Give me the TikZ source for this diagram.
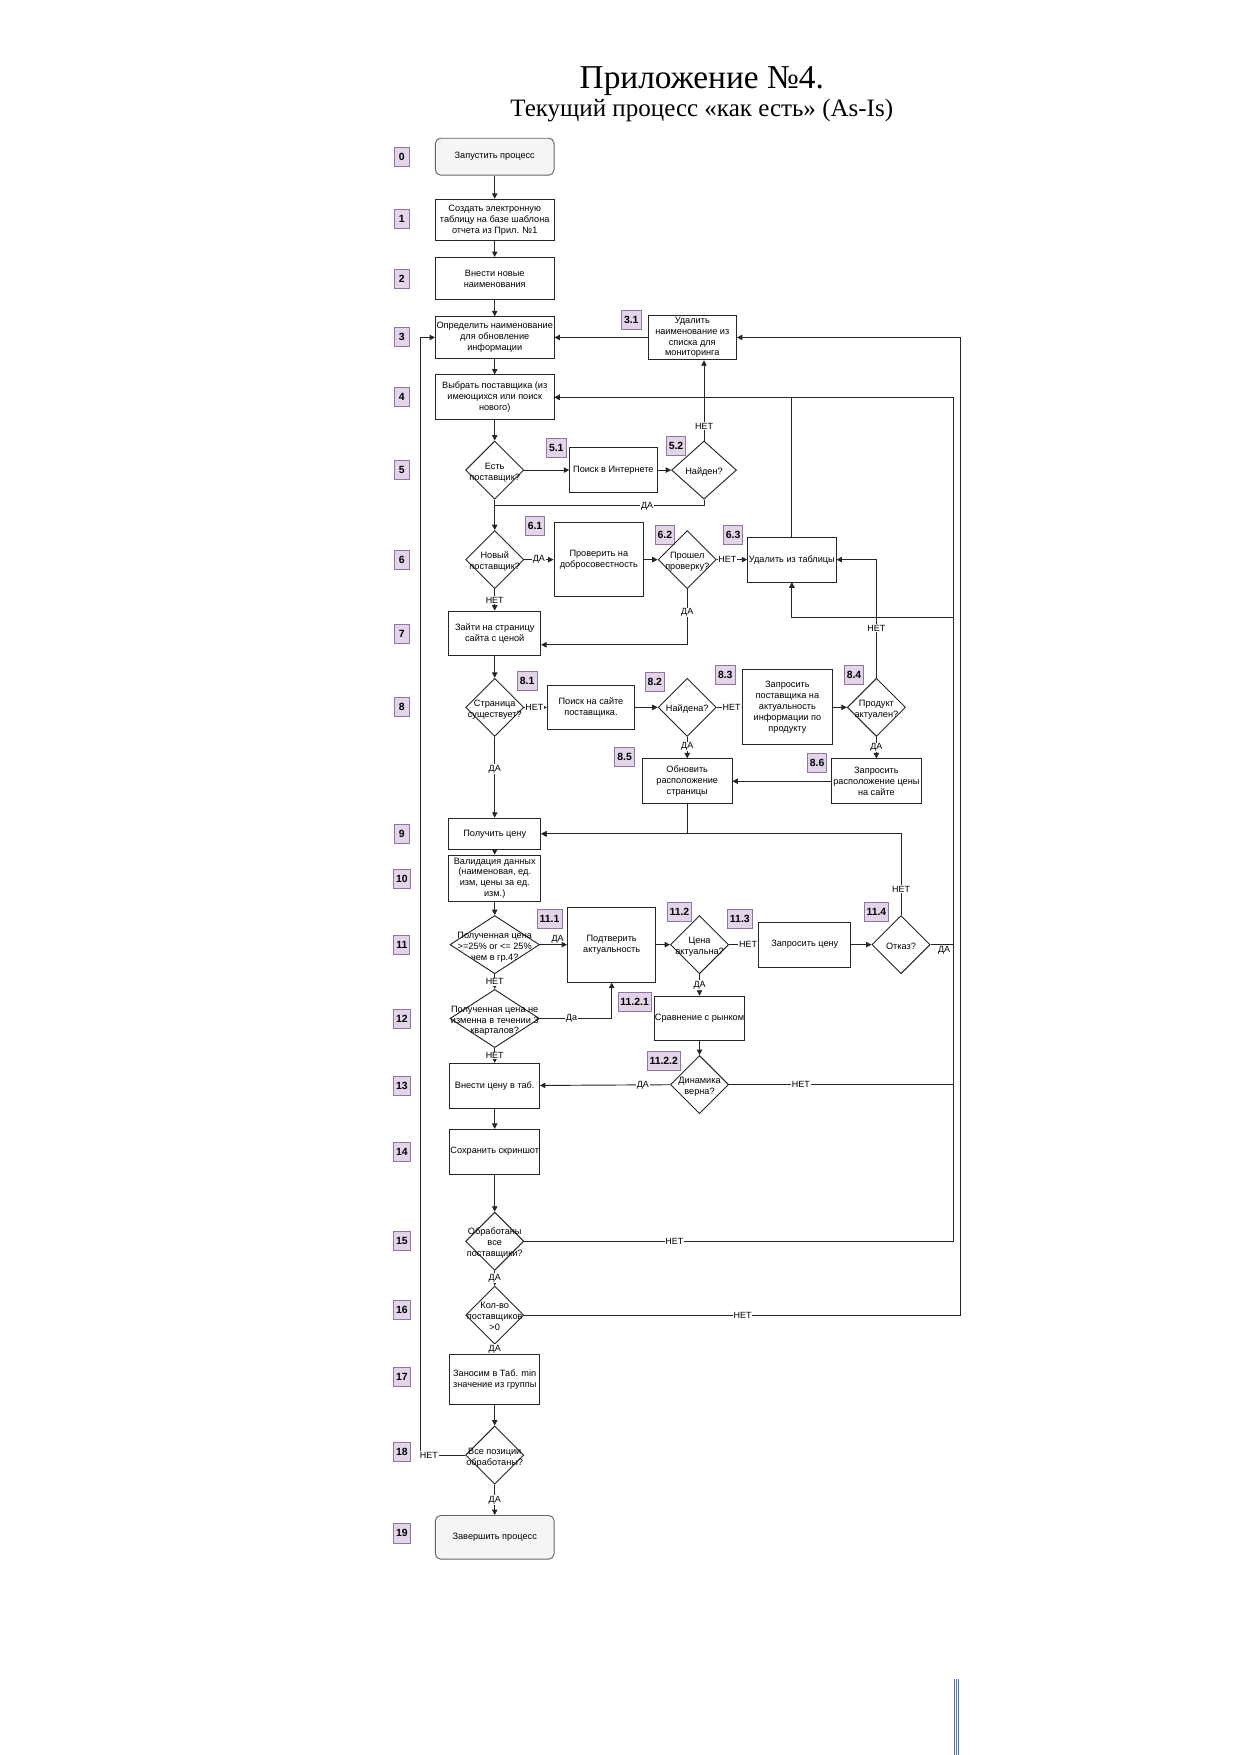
\documentclass[tikz,border=0pt]{standalone}
\usepackage{fontspec}
\setmainfont{Liberation Serif}
\newfontfamily\arialf{Liberation Sans}
\usetikzlibrary{shapes.geometric,arrows.meta}
\def\uu{0.5368pt}
\newcommand\dtext[1]{\makebox[0pt]{\smash{\raisebox{-2.4pt}{\begin{tabular}{@{}c@{}}#1\end{tabular}}}}}
\definecolor{numfill}{HTML}{E1D5E7}
\definecolor{numdraw}{HTML}{9673A6}
\definecolor{termfill}{HTML}{F5F5F5}
\definecolor{termdraw}{HTML}{666666}
\definecolor{markblue}{HTML}{4A72C0}
\begin{document}
\begin{tikzpicture}[x=0.5368pt,y=-0.5368pt,
  ln/.style={line width=0.45pt, draw=black!85},
  arr/.style={ln, -{Triangle[length=2.6pt,width=2.6pt]}},
  box/.style={draw=black!85, line width=0.45pt, rectangle, inner sep=0.3pt, align=center, font=\arialf\fontsize{4.4}{5.2}\selectfont},
  term/.style={box, rounded corners=2.5pt, fill=termfill, draw=termdraw},
  dia/.style={draw=black!85, line width=0.45pt, diamond, inner sep=0pt, font=\arialf\fontsize{4.4}{5.2}\selectfont},
  num/.style={draw=numdraw, fill=numfill, line width=0.4pt, font=\arialf\bfseries\fontsize{5}{6}\selectfont, minimum width=14*\uu, minimum height=17*\uu, inner sep=1.2pt},
  lbl/.style={fill=white, inner sep=0.4pt, font=\arialf\fontsize{4.3}{5}\selectfont},
  lblt/.style={inner sep=0.4pt, font=\arialf\fontsize{4.3}{5}\selectfont}
]
\fill[white] (0,0) rectangle (1109,1568);
\useasboundingbox (0,0) rectangle (1109,1568);

% title
\node[anchor=base, font=\fontsize{16}{19}\selectfont] (title) at (627,79) {Приложение №4.};
\node[anchor=base, font=\fontsize{12}{14}\selectfont] (subtitle) at (627,104) {Текущий процесс «как есть» (As-Is)};

% row numbers
\node[num] (L0) at (359,140) {0};
\node[num] (L1) at (359,196) {1};
\node[num] (L2) at (359,249) {2};
\node[num] (L3) at (359,301) {3};
\node[num] (L4) at (359,355) {4};
\node[num] (L5) at (359,420) {5};
\node[num] (L6) at (359,500) {6};
\node[num] (L7) at (359,566) {7};
\node[num] (L8) at (359,632) {8};
\node[num] (L9) at (359,745) {9};
\node[num] (L10) at (359,785) {10};
\node[num] (L11) at (359,844) {11};
\node[num] (L12) at (359,910) {12};
\node[num] (L13) at (359,970) {13};
\node[num] (L14) at (359,1029) {14};
\node[num] (L15) at (359,1109) {15};
\node[num] (L16) at (359,1170) {16};
\node[num] (L17) at (359,1230) {17};
\node[num] (L18) at (359,1297) {18};
\node[num] (L19) at (359,1370) {19};
\node[num] (L31) at (564,286) {3.1};
\node[num] (L51) at (497,400) {5.1};
\node[num] (L52) at (604,398) {5.2};
\node[num] (L61) at (478,470) {6.1};
\node[num] (L62) at (594,478) {6.2};
\node[num] (L63) at (655,478) {6.3};
\node[num] (L81) at (471,608) {8.1};
\node[num] (L82) at (585,609) {8.2};
\node[num] (L83) at (648,603) {8.3};
\node[num] (L84) at (763,603) {8.4};
\node[num] (L85) at (558,676) {8.5};
\node[num] (L86) at (730,682) {8.6};
\node[num] (L111) at (491,821) {11.1};
\node[num] (L112) at (607,815) {11.2};
\node[num] (L113) at (661,821) {11.3};
\node[num] (L114) at (783,815) {11.4};
\node[num] (L1121) at (567,895) {11.2.1};
\node[num] (L1122) at (593,948) {11.2.2};

% main column
\node[term, minimum width=106*\uu, minimum height=33*\uu] (n0) at (442,140) {Запустить процесс};
\node[box, minimum width=106*\uu, minimum height=37*\uu] (n1) at (442,196.5) {Создать электронную\\таблицу на базе шаблона\\отчета из Прил. №1};
\node[box, minimum width=106*\uu, minimum height=38*\uu] (n2) at (442,249) {Внести новые\\наименования};
\node[box, minimum width=106*\uu, minimum height=37*\uu] (n3) at (442,301.5) {Определить наименование\\для обновление\\информации};
\node[box, minimum width=106*\uu, minimum height=40*\uu] (n4) at (442,355) {Выбрать поставщика (из\\имеющихся или поиск\\нового)};
\node[dia, minimum width=52*\uu, minimum height=52*\uu] (n5) at (442,420) {\dtext{Есть\\поставщик?}};
\node[dia, minimum width=52*\uu, minimum height=52*\uu] (n6) at (442,500) {\dtext{Новый\\поставщик?}};
\node[box, minimum width=82*\uu, minimum height=40*\uu] (n7) at (442,566) {Зайти на страницу\\сайта с ценой};
\node[dia, minimum width=52*\uu, minimum height=52*\uu] (n8) at (442,632) {\dtext{Страница\\существует?}};
\node[box, minimum width=82*\uu, minimum height=28*\uu] (n9) at (442,745) {Получить цену};
\node[box, minimum width=82*\uu, minimum height=41*\uu] (n10) at (442,784.5) {Валидация данных\\(наименовая, ед.\\изм, цены за ед.\\изм.)};
\node[dia, minimum width=80*\uu, minimum height=52*\uu] (n11) at (442,844) {\dtext{Полученная цена\\>=25\% or <= 25\%\\чем в гр.4?}};
\node[dia, minimum width=80*\uu, minimum height=52*\uu] (n12) at (442,910) {\dtext{Полученная цена не\\изменна в течении 3\\кварталов?}};
\node[box, minimum width=80*\uu, minimum height=40*\uu] (n13) at (442,970) {Внести цену в таб.};
\node[box, minimum width=78*\uu, minimum height=40*\uu] (n14) at (442,1029) {Сохранить скриншот};
\node[dia, minimum width=52*\uu, minimum height=52*\uu] (n15) at (442,1109) {\dtext{Обработаны\\все\\поставщики?}};
\node[dia, minimum width=52*\uu, minimum height=52*\uu] (n16) at (442,1175) {\dtext{Кол-во\\поставщиков\\>0}};
\node[box, minimum width=80*\uu, minimum height=45*\uu] (n17) at (442,1232.5) {Заносим в Таб. min\\значение из группы};
\node[dia, minimum width=52*\uu, minimum height=52*\uu] (n18) at (442,1300) {\dtext{Все позиции\\обработаны?}};
\node[term, minimum width=106*\uu, minimum height=39*\uu] (n19) at (442,1373.5) {Завершить процесс};

% side nodes
\node[box, minimum width=79*\uu, minimum height=40*\uu] (n31) at (618.5,301.5) {Удалить\\наименование из\\списка для\\мониторинга};
\node[box, minimum width=78*\uu, minimum height=40*\uu] (n51) at (548,420) {Поиск в Интернете};
\node[dia, minimum width=58*\uu, minimum height=52*\uu] (n52) at (629,420) {\dtext{Найден?}};
\node[box, minimum width=80*\uu, minimum height=66*\uu] (n61) at (535,500) {Проверить на\\добросовестность};
\node[dia, minimum width=52*\uu, minimum height=52*\uu] (n62) at (614,500) {\dtext{Прошел\\проверку?}};
\node[box, minimum width=79*\uu, minimum height=40*\uu] (n63) at (707.5,500) {Удалить из таблицы};
\node[box, minimum width=78*\uu, minimum height=40*\uu] (n81) at (528,632) {Поиск на сайте\\поставщика.};
\node[dia, minimum width=52*\uu, minimum height=52*\uu] (n82) at (614,632) {\dtext{Найдена?}};
\node[box, minimum width=81*\uu, minimum height=67*\uu] (n83) at (703.5,632) {Запросить\\поставщика на\\актуальность\\информации по\\продукту};
\node[dia, minimum width=52*\uu, minimum height=52*\uu] (n84) at (783,632) {\dtext{Продукт\\актуален?}};
\node[box, minimum width=80*\uu, minimum height=40*\uu] (n85) at (614,698) {Обновить\\расположение\\страницы};
\node[box, minimum width=80*\uu, minimum height=40*\uu] (n86) at (783,698) {Запросить\\расположение цены\\на сайте};
\node[box, minimum width=79*\uu, minimum height=67*\uu] (n111) at (546.5,844) {Подтверить\\актуальность};
\node[dia, minimum width=52*\uu, minimum height=52*\uu] (n112) at (625,844) {\dtext{Цена\\актуальна?}};
\node[box, minimum width=82*\uu, minimum height=40*\uu] (n113) at (719,844) {Запросить цену};
\node[dia, minimum width=52*\uu, minimum height=52*\uu] (n114) at (805,844) {\dtext{Отказ?}};
\node[box, minimum width=78*\uu, minimum height=40*\uu] (n1121) at (625,910) {Сравнение с рынком};
\node[dia, minimum width=52*\uu, minimum height=52*\uu] (n1122) at (625,969) {\dtext{Динамика\\верна?}};

% helper coordinates on the return lines
\coordinate (rIn) at (851.5,355);
\coordinate (rMid) at (851.5,552);
\coordinate (rOut) at (858.5,301.5);
\coordinate (lRet) at (376,301.5);

% main flow
\draw[arr] (n0) -- (n1);
\draw[arr] (n1) -- (n2);
\draw[arr] (n2) -- (n3);
\draw[arr] (n3) -- (n4);
\draw[arr] (n4) -- (n5);
\draw[arr] (n5) -- (n51);
\draw[arr] (n51) -- (n52);
\draw[arr] (n52.north) -- node[lbl, pos=0.18] {НЕТ} (n52.north |- n31.south);
\draw[ln] (n52.south) |- node[lbl, pos=0.636] {ДА} (n5.south |- 0,452);
\draw[arr] (n5) -- (n6);
\draw[arr] (n6) -- node[lbl] {ДА} (n61);
\draw[arr] (n61) -- (n62);
\draw[arr] (n62) -- node[lbl, pos=0.35] {НЕТ} (n63);
\draw[arr] (n62.south) |- node[lbl, pos=0.21] {ДА} ([yshift=-5.4pt]n7.east);
\draw[arr] (n6) -- node[lbl] {НЕТ} (n7);
\draw[arr] (n63.north) |- (n4.east);
\draw[arr] (n7) -- (n8);
\draw[arr] (n8) -- node[lbl, pos=0.45] {НЕТ} (n81);
\draw[arr] (n81) -- (n82);
\draw[arr] (n82) -- node[lbl, pos=0.6] {НЕТ} (n83);
\draw[arr] (n83) -- (n84);
\draw[arr] (n84.north) |- node[lbl, pos=0.21] {НЕТ} (n63.east);
\draw[arr] (n84) -- node[lbl] {ДА} (n86);
\draw[arr] (n86) -- (n85);
\draw[arr] (n82) -- node[lbl, pos=0.45] {ДА} (n85);
\draw[arr] (n85.south) |- (n9.east);
\draw[arr] (n8) -- node[lbl, pos=0.4] {ДА} (n9);
\draw[arr] (n114.north) |- node[lbl, pos=0.16] {НЕТ} (n9.east);
\draw[arr] (n9) -- (n10);
\draw[arr] (n10) -- (n11);
\draw[arr] (n11) -- node[lblt, pos=0.65, anchor=south] {ДА} (n111);
\draw[arr] (n111) -- (n112);
\draw[arr] (n112) -- node[lbl, pos=0.65] {НЕТ} (n113);
\draw[arr] (n113) -- (n114);
\draw[arr] (n114.east) -| node[lblt, pos=0.3, anchor=north] {ДА} (rMid) -| (n63.south);
\draw[arr] (n112) -- node[lbl] {ДА} (n1121);
\draw[arr] (n1121) -- (n1122);
\draw[arr] (n1122) -- node[lbl, pos=0.21] {ДА} (n13);
\draw[arr] (n1122.east) -| node[lbl, pos=0.16] {НЕТ} (rMid) -| (n63.south);
\draw[arr] (n11) -- node[lbl] {НЕТ} (n12);
\draw[arr] (n12.east) -| node[lbl, pos=0.22] {Да} (n111.south);
\draw[arr] (n12) -- node[lbl] {НЕТ} (n13);
\draw[arr] (n13) -- (n14);
\draw[arr] (n14) -- (n15);
\draw[arr] (n15.east) -| node[lbl, pos=0.175] {НЕТ} (rIn) -- (n4.east);
\draw[arr] (n15) -- node[lbl] {ДА} (n16);
\draw[arr] (n16.east) -| node[lbl, pos=0.25] {НЕТ} (rOut) -- (n31.east);
\draw[arr] (n31) -- (n3);
\draw[arr] (n16) -- node[lbl] {ДА} (n17);
\draw[arr] (n17) -- (n18);
\draw[arr] (n18.west) -| node[lbl, pos=0.41] {НЕТ} (lRet) -- (n3.west);
\draw[arr] (n18) -- node[lbl, pos=0.5] {ДА} (n19);

% blue marks at bottom
\draw[markblue, line width=0.45pt] (853,1500) -- (853,1568);
\draw[markblue, line width=0.45pt] (854.8,1500) -- (854.8,1568);
\draw[markblue, line width=0.45pt] (856.6,1500) -- (856.6,1568);
\end{tikzpicture}
\end{document}
